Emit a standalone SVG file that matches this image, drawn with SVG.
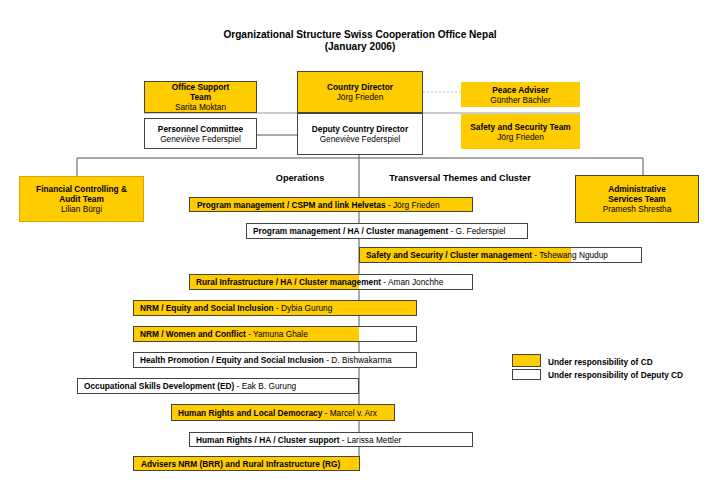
<svg xmlns="http://www.w3.org/2000/svg" width="720" height="498" viewBox="0 0 720 498">
<style>
text{font-family:"Liberation Sans",Arial,sans-serif;font-size:8.3px;fill:#000}
.b{font-weight:bold}
.t{font-weight:bold;font-size:10.1px}
.h{font-weight:bold;font-size:9.2px}
.c{text-anchor:middle}
.y{fill:#FFCC00}
.w{fill:#fff}
.bd{fill:none;stroke:#444;stroke-width:1}
.ln{stroke:#555;stroke-width:1;fill:none}
.lg{stroke:#999;stroke-width:1;fill:none}
.dt{stroke:#bbb;stroke-width:1;stroke-dasharray:2,2;fill:none}
</style>
<rect width="720" height="498" fill="#fff"/>
<text class="t c" x="360" y="38">Organizational Structure Swiss Cooperation Office Nepal</text>
<text class="t c" x="360" y="50">(January 2006)</text>

<g id="connectors">
<line class="lg" x1="144" y1="113" x2="580" y2="113"/>
<line class="ln" x1="257" y1="135" x2="297" y2="135"/>
<line class="dt" x1="423" y1="92" x2="461" y2="92"/>
<polyline class="ln" points="77,176 77,158 643,158 643,175"/>
<line class="ln" x1="359" y1="155" x2="359" y2="471"/>
</g>

<g id="office-support">
<rect class="y" x="144" y="81" width="113" height="32"/><rect class="bd" x="144.5" y="81.5" width="112" height="31"/>
<text class="b c" x="200.5" y="90">Office Support</text><text class="b c" x="200.5" y="100">Team</text><text class="c" x="200.5" y="110">Sarita Moktan</text>
</g>
<g id="country-director">
<rect class="y" x="297" y="71" width="126" height="42"/><rect class="bd" x="297.5" y="71.5" width="125" height="41"/>
<text class="b c" x="360" y="90">Country Director</text><text class="c" x="360" y="100">Jörg Frieden</text>
</g>
<g id="deputy-director">
<rect class="w" x="297" y="113" width="126" height="42"/><rect class="bd" x="297.5" y="113.5" width="125" height="41"/>
<text class="b c" x="360" y="132">Deputy Country Director</text><text class="c" x="360" y="142">Geneviève Federspiel</text>
</g>
<g id="personnel-committee">
<rect class="w" x="144" y="118" width="113" height="31"/><rect class="bd" x="144.5" y="118.5" width="112" height="30"/>
<text class="b c" x="200.5" y="132">Personnel Committee</text><text class="c" x="200.5" y="142">Geneviève Federspiel</text>
</g>
<g id="peace-adviser">
<rect class="y" x="461" y="82" width="119" height="25"/>
<text class="b c" x="520.5" y="93">Peace Adviser</text><text class="c" x="520.5" y="103">Günther Bächler</text>
</g>
<g id="safety-team">
<rect class="y" x="461" y="114" width="119" height="35"/>
<text class="b c" x="520.5" y="130">Safety and Security Team</text><text class="c" x="520.5" y="140">Jörg Frieden</text>
</g>
<g id="financial">
<rect class="y" x="19" y="176" width="125" height="46"/><rect x="19.5" y="176.5" width="124" height="45" fill="none" stroke="#d9a400"/>
<text class="b c" x="81.5" y="192">Financial Controlling &amp;</text><text class="b c" x="81.5" y="202">Audit Team</text><text class="c" x="81.5" y="212">Lilian Bürgi</text>
</g>
<g id="administrative">
<rect class="y" x="575" y="175" width="124" height="48"/><rect class="bd" x="575.5" y="175.5" width="123" height="47"/>
<text class="b c" x="637" y="192">Administrative</text><text class="b c" x="637" y="202">Services Team</text><text class="c" x="637" y="212">Pramesh Shrestha</text>
</g>

<text class="h c" x="300" y="181">Operations</text>
<text class="h c" x="460" y="181">Transversal Themes and Cluster</text>

<g id="row1">
<rect class="y" x="189" y="197" width="284" height="15"/><rect class="bd" x="189.5" y="197.5" width="283" height="14"/>
<text x="197" y="207.5"><tspan class="b">Program management / CSPM  and link Helvetas</tspan> - Jörg Frieden</text>
</g>
<g id="row2">
<rect class="w" x="246" y="223" width="282" height="16"/><rect class="bd" x="246.5" y="223.5" width="281" height="15"/>
<text x="253" y="234"><tspan class="b">Program management / HA / Cluster management</tspan> - G. Federspiel</text>
</g>
<g id="row3">
<rect class="w" x="359" y="247" width="283" height="16"/><rect class="y" x="359" y="247" width="212" height="16"/><rect class="bd" x="359.5" y="247.5" width="282" height="15"/>
<text x="366" y="258"><tspan class="b">Safety and Security / Cluster management</tspan> - Tshewang Ngudup</text>
</g>
<g id="row4">
<rect class="w" x="189" y="274" width="284" height="16"/><rect class="y" x="189" y="274" width="170" height="16"/><rect class="bd" x="189.5" y="274.5" width="283" height="15"/>
<text x="196" y="285"><tspan class="b">Rural Infrastructure / HA / Cluster management</tspan> - Aman Jonchhe</text>
</g>
<g id="row5">
<rect class="y" x="133" y="300" width="284" height="16"/><rect class="bd" x="133.5" y="300.5" width="283" height="15"/>
<text x="140" y="311"><tspan class="b">NRM / Equity and Social Inclusion</tspan> - Dybia Gurung</text>
</g>
<g id="row6">
<rect class="w" x="133" y="326" width="284" height="16"/><rect class="y" x="133" y="326" width="226" height="16"/><rect class="bd" x="133.5" y="326.5" width="283" height="15"/>
<text x="140" y="337"><tspan class="b">NRM / Women and Conflict</tspan> - Yamuna Ghale</text>
</g>
<g id="row7">
<rect class="w" x="133" y="352" width="284" height="16"/><rect class="bd" x="133.5" y="352.5" width="283" height="15"/>
<text x="140" y="363"><tspan class="b">Health Promotion / Equity and Social Inclusion</tspan> - D. Bishwakarma</text>
</g>
<g id="row8">
<rect class="w" x="77" y="378" width="282" height="16"/><rect class="bd" x="77.5" y="378.5" width="281" height="15"/>
<text x="84" y="389"><tspan class="b">Occupational Skills Development (ED)</tspan> - Eak B. Gurung</text>
</g>
<g id="row9">
<rect class="y" x="171" y="404" width="224" height="17"/><rect class="bd" x="171.5" y="404.5" width="223" height="16"/>
<text x="178" y="415.5"><tspan class="b">Human Rights and Local Democracy</tspan> - Marcel v. Arx</text>
</g>
<g id="row10">
<rect class="w" x="189" y="432" width="284" height="15"/><rect class="bd" x="189.5" y="432.5" width="283" height="14"/>
<text x="196" y="442.5"><tspan class="b">Human Rights / HA / Cluster support</tspan> - Larissa Mettler</text>
</g>
<g id="row11">
<rect class="y" x="133" y="456" width="227" height="15"/><rect class="bd" x="133.5" y="456.5" width="226" height="14"/>
<text class="b" x="141" y="466.5">Advisers NRM (BRR) and Rural Infrastructure (RG)</text>
</g>

<g id="legend">
<rect class="y" x="512" y="354" width="29" height="13"/><rect class="bd" x="512.5" y="354.5" width="28" height="12"/>
<rect class="w" x="512" y="369" width="29" height="11"/><rect class="bd" x="512.5" y="369.5" width="28" height="10"/>
<text class="b" x="548" y="365">Under responsibility of CD</text>
<text class="b" x="548" y="378">Under responsibility of Deputy CD</text>
</g>
</svg>
